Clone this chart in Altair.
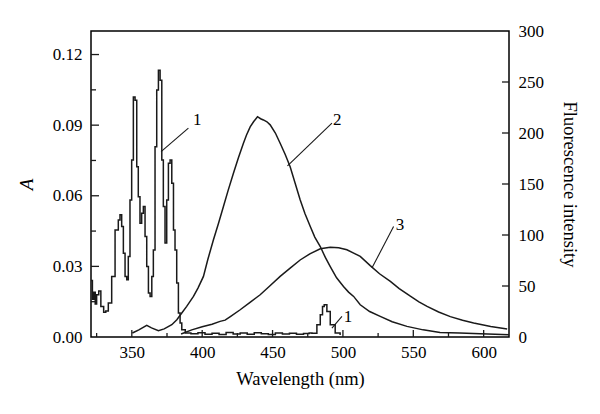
import altair as alt
import pandas as pd

# ---- data ----
abs_nm = [321, 322, 323, 324, 325, 326.5, 328, 330, 331.5, 333.3, 335.7, 338.1, 340.4, 341.6,
          342.8, 344.0, 345.2, 346.4, 347.5, 348.7, 349.9, 351.1, 352.3, 353.5, 354.6, 355.8,
          357.0, 358.2, 359.4, 360.6, 361.8, 363.0, 364.2, 365.3, 366.5, 367.7, 368.9, 370.1,
          371.3, 372.4, 373.6, 374.8, 376.0, 377.2, 378.4, 379.6, 380.7, 381.9, 383.1, 384.3,
          385.5, 388, 392, 397, 402, 407, 412, 417, 422, 427, 432, 437, 442, 447, 452, 457,
          462, 467, 472, 476, 478, 481.5, 483.9, 485.5, 486.7, 488.6, 491, 494.5, 498]
abs_val = [0.024, 0.016, 0.019, 0.014, 0.018, 0.0195, 0.013, 0.0105, 0.011, 0.0144, 0.0257,
           0.0455, 0.0497, 0.0519, 0.0469, 0.0356, 0.0257, 0.0243, 0.0342, 0.0582, 0.0752,
           0.102, 0.1006, 0.0723, 0.0596, 0.0483, 0.0526, 0.0554, 0.0427, 0.0299, 0.0187,
           0.0172, 0.0257, 0.037, 0.0808, 0.1049, 0.1133, 0.1091, 0.0752, 0.0554, 0.0399,
           0.0582, 0.0738, 0.0752, 0.0653, 0.0455, 0.037, 0.0229, 0.0102, 0.0059, 0.0031,
           0.0017, 0.0014, 0.0018, 0.0012, 0.0016, 0.0011, 0.0019, 0.0013, 0.0017, 0.0012,
           0.0018, 0.0014, 0.0011, 0.0017, 0.0013, 0.0016, 0.0012, 0.0015, 0.0017, 0.0016,
           0.0052, 0.0094, 0.0130, 0.0137, 0.0108, 0.0052, 0.0017, 0.0009]

c2_nm = [350.4, 355, 360.6, 364, 368.9, 373, 378.4, 382, 385.5, 389, 393.8, 397, 400.9, 404,
         408, 411.5, 415.1, 418.5, 422.2, 425.8, 429.3, 431.5, 434.1, 436.5, 439.3, 441.5,
         443.5, 446, 448.3, 452, 455.4, 459, 462.5, 466, 469.6, 473, 476.8, 480, 483.9, 487.5,
         491, 495.5, 500.4, 504, 507.6, 512.3, 519, 526.5, 535, 545.5, 557, 569, 583, 597.7,
         608, 618]
c2_val = [3.9, 7, 11.4, 9, 6.2, 8, 12, 17, 23.5, 30, 39.8, 48, 59.4, 76, 95.3, 111, 127.9,
          144, 160.6, 176, 190, 198, 206, 211, 216, 214, 212.8, 211, 208, 200, 190, 179, 167,
          151, 134.5, 121, 108.3, 98, 88.7, 78, 69.1, 58, 49.6, 44, 39.8, 31.6, 25, 20.2, 15,
          10.4, 7, 4.5, 3.8, 3.2, 2.8, 2.3]

c3_nm = [385, 392.6, 400, 407, 412.7, 416.3, 420, 427, 434, 441.2, 448, 455.4, 462.5, 469.6,
         476.5, 483.9, 491, 497, 502.8, 508, 512.3, 519.4, 526, 533.7, 540, 547.9, 554, 559.8,
         568, 576.3, 585, 592.9, 605, 616.7]
c3_val = [3, 7, 10, 12.5, 15.3, 16.5, 20, 26.7, 34, 41.4, 50, 59.4, 67.5, 75.5, 81.5, 86.5,
          88, 87.5, 85.5, 82, 79, 70, 62, 54.5, 47.5, 40, 34.5, 30, 24.5, 20, 16.5, 13.7,
          10.3, 7.8]

x_major = [350, 400, 450, 500, 550, 600]
x_minor = [325, 375, 425, 475, 525, 575]
a_major = [0.03, 0.06, 0.09, 0.12]
a_minor = [0.015, 0.045, 0.075, 0.105]
a_labels = [0.0, 0.03, 0.06, 0.09, 0.12]
f_ticks = [50, 100, 150, 200, 250]
f_labels = [0, 50, 100, 150, 200, 250, 300]

# annotations (label text, text position, leader line from curve to label)
ann_text = ["1", "2", "3", "1"]
ann_tx = [393.5, 493.0, 537.5, 500.5]
ann_ty = [212.7, 212.7, 109.5, 19.9]
ann_x1 = [370.8, 460.6, 520.6, 492.2]
ann_y1 = [181.8, 167.8, 67.6, 8.8]
ann_x2 = [390.2, 492.2, 536.0, 499.3]
ann_y2 = [204.7, 209.6, 108.3, 20.2]

W, H = 418, 306
FONT = "Liberation Serif"
INK = "#1a1a1a"

df_abs = pd.DataFrame({"nm": abs_nm, "A": abs_val})
df_fl = pd.concat([
    pd.DataFrame({"nm": c2_nm, "F": c2_val, "curve": "2"}),
    pd.DataFrame({"nm": c3_nm, "F": c3_val, "curve": "3"}),
])
df_xmaj = pd.DataFrame({"nm": x_major})
df_xmin = pd.DataFrame({"nm": x_minor})
df_amaj = pd.DataFrame({"A": a_major})
df_amin = pd.DataFrame({"A": a_minor})
df_ft = pd.DataFrame({"F": f_ticks})
df_ann = pd.DataFrame({"t": ann_text, "nm": ann_tx, "ty": ann_ty,
                       "x1": ann_x1, "y1": ann_y1, "x2": ann_x2, "y2": ann_y2})

xscale = alt.Scale(domain=[321, 618], nice=False, zero=False)
ascale = alt.Scale(domain=[0, 0.13], nice=False)
fscale = alt.Scale(domain=[0, 300], nice=False)

x_axis = alt.Axis(values=x_major, ticks=False, domain=False, grid=False,
                  labelFont=FONT, labelFontSize=17, labelColor="black", labelPadding=7,
                  title="Wavelength (nm)", titleFont=FONT, titleFontSize=18.5,
                  titleFontWeight="normal", titleColor="black", titlePadding=9)

a_axis = alt.Axis(orient="left", values=a_labels, format=".2f", ticks=False, domain=False,
                  grid=False, labelFont=FONT, labelFontSize=17, labelColor="black",
                  labelPadding=9, title="A", titleFont=FONT, titleFontSize=19,
                  titleFontStyle="italic", titleFontWeight="normal", titleColor="black",
                  titlePadding=16)

f_axis = alt.Axis(orient="right", values=f_labels, ticks=False, domain=False, grid=False,
                  labelFont=FONT, labelFontSize=17, labelColor="black", labelPadding=9,
                  title="Fluorescence intensity", titleFont=FONT, titleFontSize=18.5,
                  titleFontWeight="normal", titleColor="black", titlePadding=16)


def X(field):
    # every layer that uses the shared x scale carries the same axis definition
    return alt.X(f"{field}:Q", scale=xscale, axis=x_axis)


abs_line = alt.Chart(df_abs).mark_line(color=INK, strokeWidth=1.5, interpolate="step-after").encode(
    x=X("nm"),
    y=alt.Y("A:Q", scale=ascale, axis=a_axis),
)

fl_lines = alt.Chart(df_fl).mark_line(color=INK, strokeWidth=1.5).encode(
    x=X("nm"),
    y=alt.Y("F:Q", scale=fscale, axis=f_axis),
    detail="curve:N",
)

a_ticks = alt.Chart(df_amaj).mark_rule(color=INK, strokeWidth=1.3).encode(
    y=alt.Y("A:Q", scale=ascale, axis=None),
    x=alt.value(0),
    x2=alt.value(8),
)

a_ticks_minor = alt.Chart(df_amin).mark_rule(color=INK, strokeWidth=1.3).encode(
    y=alt.Y("A:Q", scale=ascale, axis=None),
    x=alt.value(0),
    x2=alt.value(5),
)

x_ticks = alt.Chart(df_xmaj).mark_rule(color=INK, strokeWidth=1.3).encode(
    x=X("nm"),
    y=alt.value(H),
    y2=alt.value(H - 7),
)

x_ticks_minor = alt.Chart(df_xmin).mark_rule(color=INK, strokeWidth=1.3).encode(
    x=X("nm"),
    y=alt.value(H),
    y2=alt.value(H - 4),
)

f_tick_marks = alt.Chart(df_ft).mark_rule(color=INK, strokeWidth=1.3).encode(
    y=alt.Y("F:Q", scale=fscale, axis=None),
    x=alt.value(W),
    x2=alt.value(W - 7),
)

ann_lines = alt.Chart(df_ann).mark_rule(color=INK, strokeWidth=1.1).encode(
    x=X("x1"),
    x2="x2:Q",
    y=alt.Y("y1:Q", scale=fscale, axis=None),
    y2="y2:Q",
)

ann_text_marks = alt.Chart(df_ann).mark_text(font=FONT, fontSize=17, color="black",
                                             align="left", baseline="middle").encode(
    x=X("nm"),
    y=alt.Y("ty:Q", scale=fscale, axis=None),
    text="t:N",
)

chart = alt.layer(
    abs_line, fl_lines, a_ticks, a_ticks_minor, x_ticks, x_ticks_minor,
    f_tick_marks, ann_lines, ann_text_marks,
).resolve_scale(y="independent").properties(
    width=W, height=H,
    background="white",
    autosize=alt.AutoSizeParams(type="none"),
    padding={"left": 83, "top": 23, "right": 83, "bottom": 69},
).configure_view(stroke="black", strokeWidth=1.5)

chart.save("out.html", embed_options={"renderer": "svg", "actions": False})
